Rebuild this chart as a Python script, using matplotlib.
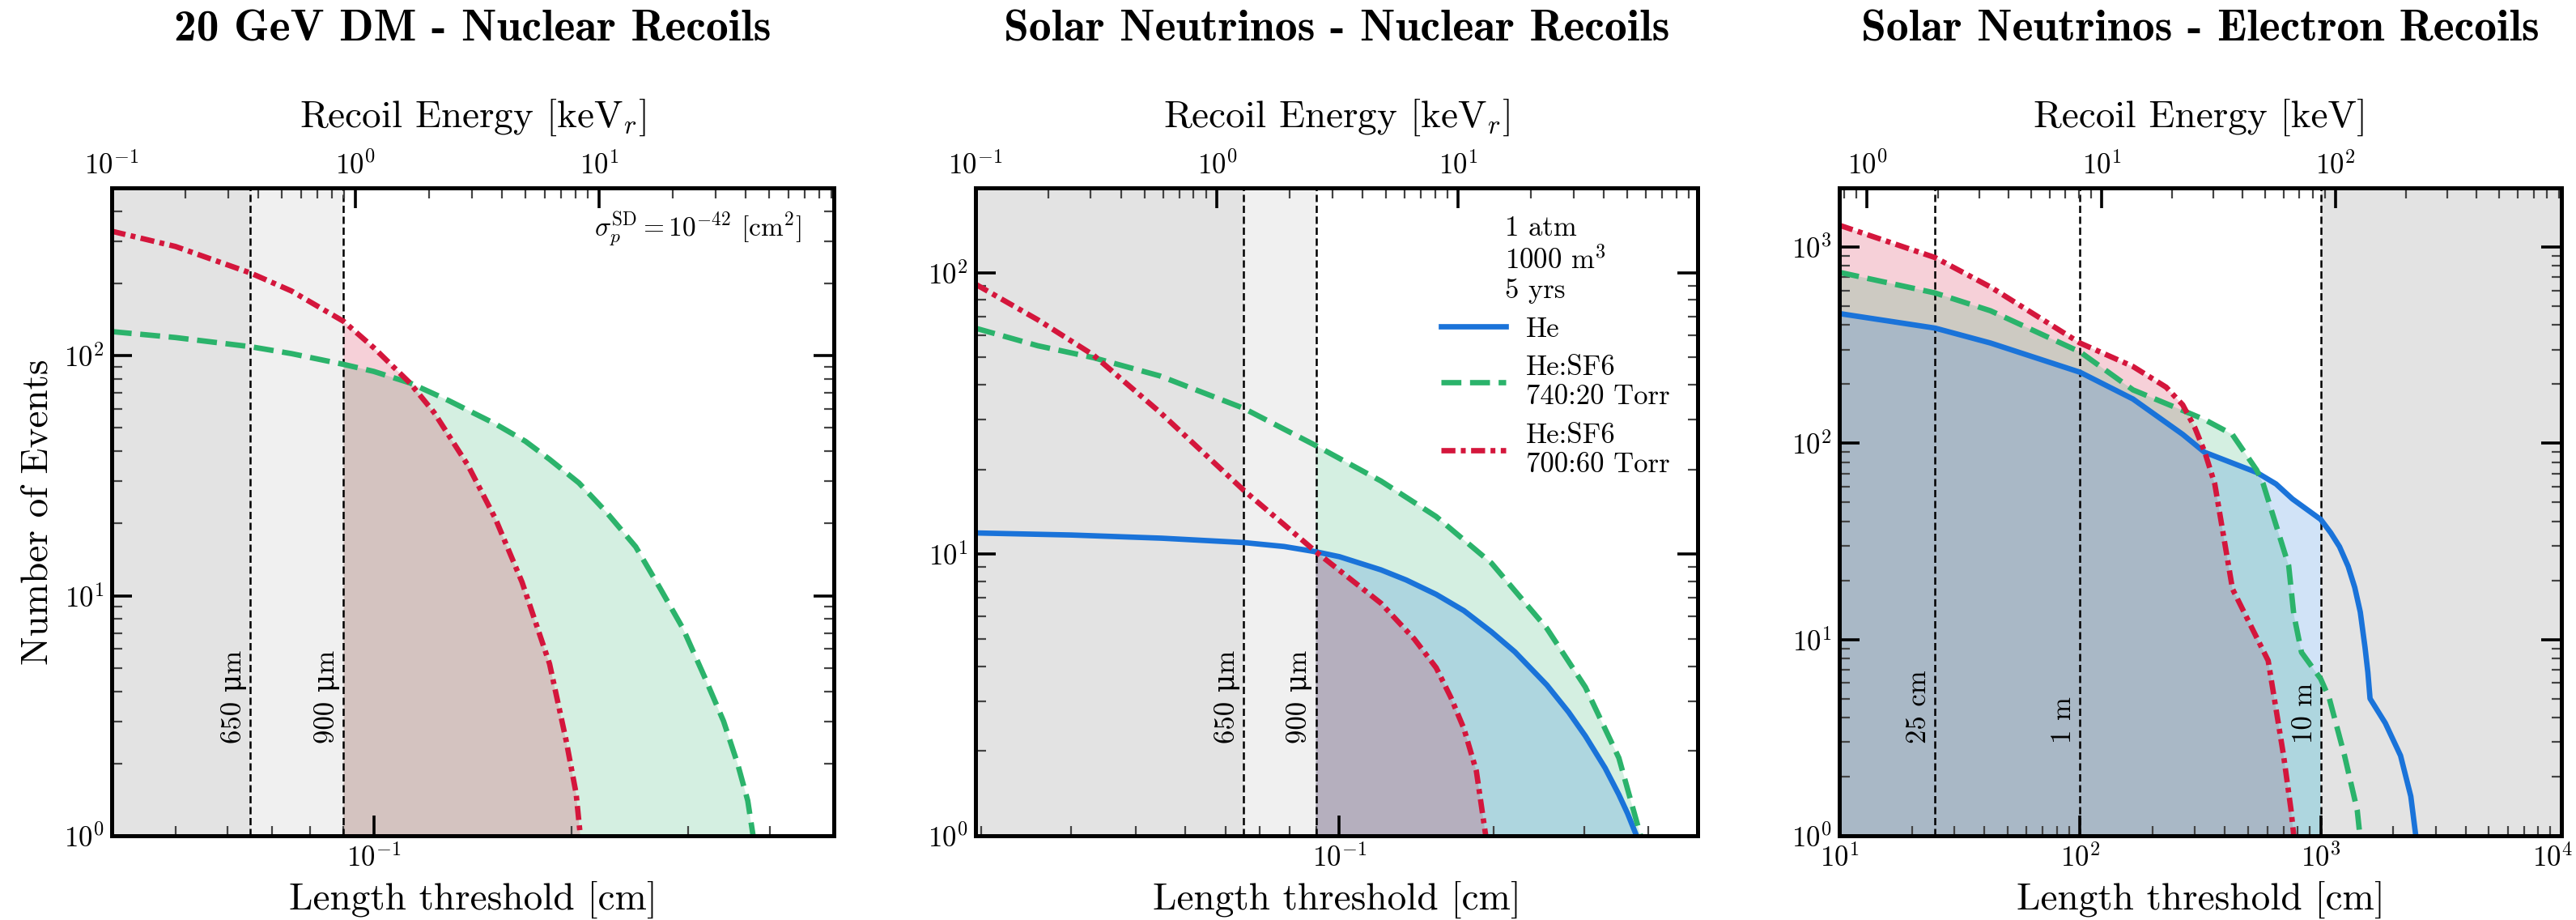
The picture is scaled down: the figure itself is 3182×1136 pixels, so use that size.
import numpy as np
import matplotlib
matplotlib.use("Agg")
import matplotlib.pyplot as plt
import matplotlib.transforms as mtransforms
from matplotlib.ticker import NullFormatter

plt.rcParams['font.family'] = ['cmr10', 'DejaVu Serif']
plt.rcParams['mathtext.fontset'] = 'cm'
plt.rcParams['axes.formatter.use_mathtext'] = True

# ---------------- data ----------------
# Panel 1: 20 GeV DM - nuclear recoils (x: length threshold [cm])
dm_sf6_20_x = [0.04, 0.05, 0.065, 0.075, 0.09, 0.1, 0.1135, 0.13, 0.153, 0.17, 0.185, 0.205,
               0.225, 0.25, 0.272, 0.295, 0.318, 0.34, 0.357, 0.37, 0.377]
dm_sf6_20_y = [126, 119, 109, 102, 92, 86, 77, 65, 52, 44, 37, 29.5,
               22.5, 16, 10.8, 7.3, 4.6, 3.0, 2.0, 1.4, 1.0]
dm_sf6_60_x = [0.04, 0.05, 0.065, 0.075, 0.09, 0.1, 0.1135, 0.1235, 0.139, 0.153, 0.168,
               0.185, 0.196, 0.203, 0.206]
dm_sf6_60_y = [330, 285, 221, 186, 139, 108, 77, 58, 35, 21, 11.4, 5.2, 2.5, 1.5, 1.0]

# Panel 2: solar neutrinos - nuclear recoils
nr_he_x = [0.0195, 0.03, 0.045, 0.065, 0.078, 0.09, 0.1, 0.1205, 0.135, 0.1545, 0.175, 0.198,
           0.22, 0.254, 0.28, 0.302, 0.33, 0.351, 0.365, 0.38]
nr_he_y = [11.9, 11.7, 11.4, 11.0, 10.65, 10.2, 9.8, 8.8, 8.1, 7.2, 6.3, 5.3,
           4.5, 3.43, 2.75, 2.26, 1.74, 1.4, 1.2, 1.0]
nr_sf6_20_x = [0.0195, 0.0258, 0.0331, 0.0446, 0.065, 0.09, 0.1205, 0.1545, 0.198, 0.254,
               0.302, 0.351, 0.387]
nr_sf6_20_y = [63.5, 55, 49.9, 43, 33, 24.3, 18.2, 13.6, 9.3, 5.45, 3.37, 1.89, 1.0]
nr_sf6_60_x = [0.0195, 0.0258, 0.0331, 0.0446, 0.065, 0.09, 0.1205, 0.14, 0.1545, 0.165,
               0.175, 0.185, 0.193]
nr_sf6_60_y = [91, 68, 51, 32, 16.9, 10.2, 6.7, 5.0, 3.95, 3.1, 2.4, 1.7, 1.0]

# Panel 3: solar neutrinos - electron recoils (x: length threshold [cm])
er_he_x = [10, 25, 42.5, 100, 166, 267, 329, 542, 652, 763, 1000, 1100, 1197, 1300, 1385,
           1460, 1528, 1570, 1603, 1855, 2146, 2367, 2483]
er_he_y = [458, 386, 324, 230, 168, 111, 90, 71, 62, 52, 40.9, 35.0, 29.7, 23.6, 18.4,
           13.8, 9.1, 6.8, 5.0, 3.75, 2.56, 1.59, 1.0]
er_sf6_20_x = [10, 25, 42.5, 100, 166, 267, 329, 429, 542, 577, 736, 773, 832, 1000, 1086,
               1256, 1418, 1455]
er_sf6_20_y = [743, 583, 473, 292, 187, 147, 132, 111, 73, 62, 23.8, 13.4, 8.6, 6.3, 5.0,
               2.56, 1.35, 1.0]
er_sf6_60_x = [10, 25, 42.5, 100, 166, 228, 267, 300, 330, 363, 430, 605, 701, 753, 773]
er_sf6_60_y = [1291, 883, 625, 324, 246, 193, 157, 120, 90, 62, 18.1, 7.8, 2.56, 1.35, 1.0]

titles = ['20 GeV DM - Nuclear Recoils', 'Solar Neutrinos - Nuclear Recoils',
          'Solar Neutrinos - Electron Recoils']
top_labels = ['Recoil Energy [keV$_r$]', 'Recoil Energy [keV$_r$]', 'Recoil Energy [keV]']
legend_labels = ['He', 'He:SF6\n740:20 Torr', 'He:SF6\n700:60 Torr']

nr_cut_lines = [0.065, 0.09]
nr_cut_labels = ['650 \u03bcm', '900 \u03bcm']
er_cut_lines = [25, 100, 1000]
er_cut_labels = ['25 cm', '1 m', '10 m']

# ---------------- style ----------------
c_blue = '#1a73d9'
c_green = '#2bb36b'
c_red = '#d4163c'
fill_alpha = 0.2
lw = 2.4
dashdot = (0, (2.6, 1.0, 0.9, 1.0))

fig = plt.figure(figsize=(15.91, 5.68), dpi=200)
W, H = 3182, 1136
lefts = [138, 1205, 2272]
ax_w, ax_top, ax_bot = 892, 232, 1032

xlims = [(0.04, 0.5), (0.0195, 0.5), (10, 1e4)]
ylims = [(1, 500), (1, 200), (1, 2000)]
toplims = [(0.0999, 92), (0.0999, 98), (0.76, 920)]

axes = []
for i in range(3):
    ax = fig.add_axes([lefts[i] / W, 1 - ax_bot / H, ax_w / W, (ax_bot - ax_top) / H])
    ax.set_xscale('log')
    ax.set_yscale('log')
    ax.set_xlim(*xlims[i])
    ax.set_ylim(*ylims[i])
    ax.xaxis.set_minor_formatter(NullFormatter())
    ax.yaxis.set_minor_formatter(NullFormatter())
    ax.tick_params(which='both', direction='in', top=False, right=True, labelsize=12.5)
    ax.tick_params(which='major', length=9, width=1.3)
    ax.tick_params(which='minor', length=4.5, width=0.8, color='#444444')
    ax.set_xlabel('Length threshold [cm]', fontsize=17, labelpad=4)
    for s in ax.spines.values():
        s.set_linewidth(1.8)
    tw = ax.twiny()
    tw.set_xscale('log')
    tw.set_xlim(*toplims[i])
    tw.xaxis.set_minor_formatter(NullFormatter())
    tw.tick_params(which='both', direction='in', labelsize=12.5)
    tw.tick_params(which='major', length=9, width=1.3)
    tw.tick_params(which='minor', length=4.5, width=0.8, color='#444444')
    tw.set_xlabel(top_labels[i], fontsize=17, labelpad=11)
    for s in tw.spines.values():
        s.set_linewidth(1.8)
    fig.text((lefts[i] + ax_w / 2) / W, 1 - 37 / H, titles[i], fontsize=20,
             family='cmb10', ha='center', va='center')
    axes.append(ax)

axes[0].set_ylabel('Number of Events', fontsize=17)


def vlines(ax, xs, labels):
    trans = mtransforms.blended_transform_factory(ax.transData, ax.transAxes)
    for x, lab in zip(xs, labels):
        ax.axvline(x, color='k', lw=0.9, ls=(0, (3.6, 1.8)), zorder=2)
        ax.annotate(lab, xy=(x, 0.142), xycoords=trans, xytext=(-1.5, 0),
                    textcoords='offset points', rotation=90, ha='right', va='bottom',
                    fontsize=12.5)


def fill(ax, xs, ys, color, cond):
    xs = np.asarray(xs, float)
    ys = np.asarray(ys, float)
    m = cond(xs)
    ax.fill_between(xs[m], ys[m], 1e-3, color=color, alpha=fill_alpha, lw=0, zorder=1)


# Panel 1
ax = axes[0]
ax.axvspan(1e-3, nr_cut_lines[0], color='#e3e3e3', lw=0, zorder=0)
ax.axvspan(nr_cut_lines[0], nr_cut_lines[1], color='#f0f0f0', lw=0, zorder=0)
fill(ax, dm_sf6_20_x, dm_sf6_20_y, c_green, lambda x: x >= 0.09 - 1e-9)
fill(ax, dm_sf6_60_x, dm_sf6_60_y, c_red, lambda x: x >= 0.09 - 1e-9)
vlines(ax, nr_cut_lines, nr_cut_labels)
ax.plot(dm_sf6_20_x, dm_sf6_20_y, color=c_green, lw=lw, ls='--', zorder=3)
ax.plot(dm_sf6_60_x, dm_sf6_60_y, color=c_red, lw=lw, ls=dashdot, zorder=3)
ax.text(0.955, 0.937, r'$\sigma_p^{\rm SD} = 10^{-42}$ [cm$^2$]', transform=ax.transAxes,
        ha='right', va='center', fontsize=12)

# Panel 2
ax = axes[1]
ax.axvspan(1e-3, nr_cut_lines[0], color='#e3e3e3', lw=0, zorder=0)
ax.axvspan(nr_cut_lines[0], nr_cut_lines[1], color='#f0f0f0', lw=0, zorder=0)
fill(ax, nr_sf6_20_x, nr_sf6_20_y, c_green, lambda x: x >= 0.09 - 1e-9)
fill(ax, nr_he_x, nr_he_y, c_blue, lambda x: x >= 0.09 - 1e-9)
fill(ax, nr_sf6_60_x, nr_sf6_60_y, c_red, lambda x: x >= 0.09 - 1e-9)
vlines(ax, nr_cut_lines, nr_cut_labels)
h1, = ax.plot(nr_he_x, nr_he_y, color=c_blue, lw=lw, ls='-', zorder=3)
h2, = ax.plot(nr_sf6_20_x, nr_sf6_20_y, color=c_green, lw=lw, ls='--', zorder=3)
h3, = ax.plot(nr_sf6_60_x, nr_sf6_60_y, color=c_red, lw=lw, ls=dashdot, zorder=3)
leg = ax.legend([h1, h2, h3], legend_labels, loc='upper right', frameon=False,
                fontsize=12.5, title='1 atm\n1000 m$^3$\n5 yrs', title_fontsize=12.5,
                handlelength=2.3, handletextpad=0.7, labelspacing=0.45,
                borderaxespad=0.6)
leg.get_title().set_multialignment('left')

# Panel 3
ax = axes[2]
ax.axvspan(1000, 1e5, color='#e3e3e3', lw=0, zorder=0)
fill(ax, er_sf6_60_x, er_sf6_60_y, c_red, lambda x: x <= 1000 + 1e-9)
fill(ax, er_sf6_20_x, er_sf6_20_y, c_green, lambda x: x <= 1000 + 1e-9)
fill(ax, er_he_x, er_he_y, c_blue, lambda x: x <= 1000 + 1e-9)
vlines(ax, er_cut_lines, er_cut_labels)
ax.plot(er_he_x, er_he_y, color=c_blue, lw=lw, ls='-', zorder=3)
ax.plot(er_sf6_20_x, er_sf6_20_y, color=c_green, lw=lw, ls='--', zorder=3)
ax.plot(er_sf6_60_x, er_sf6_60_y, color=c_red, lw=lw, ls=dashdot, zorder=3)

# keep the 10^4 label at the right edge inside the canvas
fig.canvas.draw()
for t in axes[2].xaxis.get_major_ticks():
    if abs(t.get_loc() - 1e4) < 1:
        t.label1.set_transform(t.label1.get_transform() +
                               mtransforms.ScaledTranslation(-4 / 72, 0, fig.dpi_scale_trans))

fig.savefig('out.png', dpi=200)
